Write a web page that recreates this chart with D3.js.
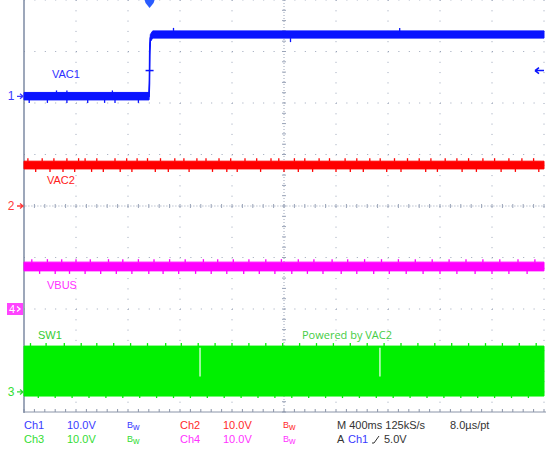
<!DOCTYPE html>
<html><head><meta charset="utf-8">
<script src="https://cdn.jsdelivr.net/npm/d3@7"></script>
<style>
html,body{margin:0;padding:0;background:#fff;}
svg{display:block;font-family:"Liberation Sans",Arial,sans-serif;}
</style></head>
<body><svg id="c" width="547" height="452"></svg>
<script>
// ---- data (time in ms from left edge, 400 ms/div; volts, 10 V/div) ----
const timeDivs = [0, 400, 800, 1200, 1600, 2000, 2400, 2800, 3200, 3600, 4000];
const voltDivs = [-4, -3, -2, -1, 0, 1, 2, 3, 4];
const triggerTime = 966;
const triggerLevel = 5.0;

// channel ground offsets in divisions
const chOffsets = {ch1: 2.13, ch2: 0, ch3: -3.61, ch4: -2.0};

// VAC1 (Ch1): envelope of the trace
const vac1Time = [0, 962, 965, 967, 972, 990, 4000];
const vac1Low  = [-0.7, -0.7, 2.0, 8.0, 10.6, 11.3, 11.3];
const vac1High = [0.75, 0.75, 3.0, 9.5, 12.0, 12.7, 12.7];
const vac1LowSpikeDown = [40, 180, 330, 490, 620, 700, 880];
const vac1LowSpikeUp = [250, 330, 680];
const vac1HighSpikeUp = [1150, 2890];
const vac1HighSpikeDown = [2050];

// VAC2 (Ch2)
const vac2Time = [0, 4000];
const vac2Low  = [7.2, 7.2];
const vac2High = [8.7, 8.7];
const vac2SpikeUp = [30, 140, 230, 330, 420, 470, 560, 700, 790, 870, 950, 1050, 1160, 1230, 1330, 1400, 1500, 1590, 1700, 1790, 1900, 1960, 2080, 2160, 2270, 2350, 2470, 2560, 2660, 2740, 2850, 2950, 3040, 3130, 3240, 3330, 3420, 3530, 3620, 3730, 3830, 3920];
const vac2SpikeDown = [90, 200, 300, 390, 520, 610, 740, 830, 1010, 1110, 1270, 1450, 1560, 1640, 1820, 2000, 2110, 2220, 2400, 2510, 2610, 2790, 2900, 3090, 3180, 3370, 3480, 3670, 3780, 3960];

// VBUS (Ch4)
const vbusTime = [0, 4000];
const vbusLow  = [7.4, 7.4];
const vbusHigh = [9.1, 9.1];
const vbusSpikeUp = [60, 180, 290, 400, 510, 650, 760, 880, 1000, 1120, 1240, 1380, 1490, 1610, 1730, 1860, 1980, 2110, 2230, 2370, 2490, 2620, 2750, 2880, 3010, 3140, 3270, 3400, 3530, 3660, 3800, 3930];
const vbusSpikeDown = [120, 240, 350, 470, 590, 710, 830, 960, 1070, 1190, 1320, 1440, 1560, 1690, 1810, 1930, 2060, 2180, 2300, 2440, 2560, 2690, 2810, 2940, 3070, 3200, 3330, 3470, 3600, 3730, 3870];

// SW1 (Ch3): switching envelope
const sw1Time = [0, 4000];
const sw1Low  = [-0.8, -0.8];
const sw1High = [8.9, 8.9];
const sw1Gaps = [1354, 2738];
const sw1GapLow = 3.0;
const sw1SpikeUp = [50, 170, 310, 440, 560, 690, 820, 950, 1090, 1210, 1340, 1470, 1600, 1730, 1860, 1990, 2120, 2250, 2380, 2510, 2640, 2770, 2900, 3030, 3160, 3290, 3420, 3550, 3680, 3810, 3940];
const sw1SpikeDown = [110, 240, 370, 500, 630, 760, 890, 1020, 1150, 1280, 1410, 1540, 1670, 1800, 1930, 2060, 2190, 2320, 2450, 2580, 2710, 2840, 2970, 3100, 3230, 3360, 3490, 3620, 3750, 3880];

// bottom readout texts
const readoutRow1 = [
  {t: "Ch1", c: "#3a3aff", x: 24}, {t: "10.0V", c: "#3a3aff", x: 67},
  {t: "Ch2", c: "#ff2a2a", x: 180}, {t: "10.0V", c: "#ff2a2a", x: 223},
  {t: "M 400ms 125kS/s", c: "#333", x: 337}, {t: "8.0\u00b5s/pt", c: "#333", x: 450}
];
const readoutRow2 = [
  {t: "Ch3", c: "#33dd33", x: 24}, {t: "10.0V", c: "#33dd33", x: 67},
  {t: "Ch4", c: "#ff33ff", x: 180}, {t: "10.0V", c: "#ff33ff", x: 223},
  {t: "A", c: "#333", x: 337}, {t: "Ch1", c: "#3a3aff", x: 348}, {t: "5.0V", c: "#333", x: 384}
];
const bwMarks = [
  {c: "#3a3aff", x: 127, row: 0}, {c: "#ff2a2a", x: 283, row: 0},
  {c: "#33dd33", x: 127, row: 1}, {c: "#ff33ff", x: 283, row: 1}
];

// ---- drawing ----
const svg = d3.select("#c");
const L = 24, R = 544, T = 0, B = 412;
const x = d3.scaleLinear().domain([0, 4000]).range([L, R]);
const yDiv = d3.scaleLinear().domain([-4, 4]).range([B, T]);
const yCh = (ch) => (v) => yDiv(chOffsets[ch] + v / 10);

const colors = {ch1: "#0a14ff", ch2: "#ff0000", ch3: "#00f000", ch4: "#ff00ff"};

// grid
const g = svg.append("g");
const sub = (R - L) / 50;
timeDivs.forEach((t, i) => {
  if (i === 0) return;
  g.append("line").attr("x1", x(t)).attr("x2", x(t)).attr("y1", T).attr("y2", B)
    .attr("stroke", "#9aa4b8").attr("stroke-width", 1)
    .attr("stroke-dasharray", i === 5 ? "1,2" : `1,${(B - T) / 40 - 1}`);
});
voltDivs.forEach((v, i) => {
  if (v === -4) return;
  g.append("line").attr("x1", L).attr("x2", R).attr("y1", yDiv(v)).attr("y2", yDiv(v))
    .attr("stroke", "#9aa4b8").attr("stroke-width", 1)
    .attr("stroke-dasharray", v === 0 ? "1,2" : `1,${sub - 1}`)
    .attr("stroke-dashoffset", -sub);
});
// center ticks
const xt = d3.range(0, 51).map(i => L + i * sub);
g.selectAll(".hct").data(xt).join("line")
  .attr("x1", d => d).attr("x2", d => d).attr("y1", yDiv(0) - 2).attr("y2", yDiv(0) + 2)
  .attr("stroke", "#9aa4b8");
const ytk = d3.range(0, 41).map(i => T + i * (B - T) / 40);
g.selectAll(".vct").data(ytk).join("line")
  .attr("x1", x(2000) - 2).attr("x2", x(2000) + 2).attr("y1", d => d).attr("y2", d => d)
  .attr("stroke", "#9aa4b8");
// bottom ticks
g.selectAll(".bt").data(xt).join("line")
  .attr("x1", d => d).attr("x2", d => d).attr("y1", B - 3).attr("y2", B)
  .attr("stroke", "#8a94a8");
// frame left & bottom
g.append("line").attr("x1", L).attr("x2", L).attr("y1", T).attr("y2", B + 1)
  .attr("stroke", "#7d8aa3").attr("stroke-width", 1.5);
g.append("line").attr("x1", L).attr("x2", R + 2).attr("y1", B).attr("y2", B)
  .attr("stroke", "#8a94a8").attr("stroke-width", 1);

// traces
function band(ch, times, lows, highs) {
  const y = yCh(ch);
  const pts = times.map((t, i) => ({t, lo: lows[i], hi: highs[i]}));
  svg.append("path").datum(pts)
    .attr("d", d3.area().x(d => x(d.t)).y0(d => y(d.lo)).y1(d => y(d.hi)))
    .attr("fill", colors[ch]).attr("stroke", colors[ch]).attr("stroke-width", 1);
}
function spikes(ch, times, base, dir, len) {
  const y = yCh(ch);
  svg.append("g").selectAll("line").data(times).join("line")
    .attr("x1", d => x(d)).attr("x2", d => x(d))
    .attr("y1", y(base)).attr("y2", y(base) + dir * len)
    .attr("stroke", colors[ch]).attr("stroke-width", 1.3);
}
band("ch1", vac1Time, vac1Low, vac1High);
svg.append("path").datum(vac1Time.map((t, i) => ({t, v: (vac1Low[i] + vac1High[i]) / 2})))
  .attr("d", d3.line().x(d => x(d.t)).y(d => yCh("ch1")(d.v)))
  .attr("fill", "none").attr("stroke", colors.ch1).attr("stroke-width", 1.6);
spikes("ch1", vac1LowSpikeDown, -0.7, 1, 3);
spikes("ch1", vac1LowSpikeUp, 0.75, -1, 2);
spikes("ch1", vac1HighSpikeUp, 12.7, -1, 3);
spikes("ch1", vac1HighSpikeDown, 11.3, 1, 4);
band("ch2", vac2Time, vac2Low, vac2High);
spikes("ch2", vac2SpikeUp, 8.7, -1, 3);
spikes("ch2", vac2SpikeDown, 7.2, 1, 3);
band("ch4", vbusTime, vbusLow, vbusHigh);
spikes("ch4", vbusSpikeUp, 9.1, -1, 3);
spikes("ch4", vbusSpikeDown, 7.4, 1, 3);
band("ch3", sw1Time, sw1Low, sw1High);
spikes("ch3", sw1SpikeUp, 8.9, -1, 3);
spikes("ch3", sw1SpikeDown, -0.8, 1, 2);
svg.append("g").selectAll("line").data(sw1Gaps).join("line")
  .attr("x1", d => x(d)).attr("x2", d => x(d))
  .attr("y1", yCh("ch3")(8.6)).attr("y2", yCh("ch3")(sw1GapLow))
  .attr("stroke", "#ffffff").attr("stroke-width", 1.2);

// trigger level mark on the rising edge
const ty = yCh("ch1")(triggerLevel);
svg.append("line").attr("x1", x(triggerTime) - 4).attr("x2", x(triggerTime) + 4)
  .attr("y1", ty).attr("y2", ty).attr("stroke", colors.ch1).attr("stroke-width", 1.5);
// trigger position marker (top)
const tx = x(triggerTime);
svg.append("path").attr("d", `M${tx - 5},0 L${tx + 5},0 L${tx + 4},3 L${tx},8 L${tx - 4},3 Z`)
  .attr("fill", "#2a5cff");
// trigger level arrow right
svg.append("path").attr("d", `M${R - 9},${ty} L${R},${ty} M${R - 9},${ty} L${R - 5},${ty - 3} M${R - 9},${ty} L${R - 5},${ty + 3}`)
  .attr("stroke", colors.ch1).attr("stroke-width", 1.5).attr("fill", "none");

// channel ground markers
function gnd(ch, label, col) {
  const yy = yCh(ch)(0);
  svg.append("text").attr("x", 11).attr("y", yy + 4).attr("text-anchor", "middle")
    .attr("font-size", 12).attr("fill", col).text(label);
  svg.append("path").attr("d", `M17,${yy} L22,${yy} M20,${yy - 2.5} L23,${yy} L20,${yy + 2.5}`)
    .attr("stroke", col).attr("stroke-width", 1.3).attr("fill", "none");
}
gnd("ch1", "1", "#3a3aff");
gnd("ch2", "2", "#ff3a3a");
gnd("ch3", "3", "#33dd33");
{
  const yy = yCh("ch4")(0);
  svg.append("rect").attr("x", 7).attr("y", yy - 6).attr("width", 16).attr("height", 12).attr("fill", "#ff44ff");
  svg.append("text").attr("x", 12).attr("y", yy + 4).attr("text-anchor", "middle")
    .attr("font-size", 11).attr("fill", "#fff").text("4");
  svg.append("path").attr("d", `M17,${yy - 2.5} L20,${yy} L17,${yy + 2.5}`)
    .attr("stroke", "#fff").attr("stroke-width", 1.3).attr("fill", "none");
}

// trace labels
const labels = [
  {t: "VAC1", c: "#3030ff", x: 52, y: 78},
  {t: "VAC2", c: "#ff2020", x: 47, y: 184},
  {t: "VBUS", c: "#ff30ff", x: 47, y: 289},
  {t: "SW1", c: "#33cc33", x: 38, y: 339},
  {t: "Powered by VAC2", c: "#44cc44", x: 302, y: 339}
];
svg.append("g").selectAll("text").data(labels).join("text")
  .attr("x", d => d.x).attr("y", d => d.y).attr("fill", d => d.c)
  .attr("font-size", 11)
  .attr("font-family", d => d.t.length > 5 ? "'Open Sans',sans-serif" : null)
  .text(d => d.t);

// readout
const rowY = [429, 443];
[readoutRow1, readoutRow2].forEach((row, r) => {
  svg.append("g").selectAll("text").data(row).join("text")
    .attr("x", d => d.x).attr("y", rowY[r]).attr("fill", d => d.c)
    .attr("font-size", 11).text(d => d.t);
});
bwMarks.forEach(b => {
  const t = svg.append("text").attr("x", b.x).attr("y", rowY[b.row] - 1).attr("fill", b.c).attr("font-size", 9);
  t.append("tspan").text("B");
  t.append("tspan").attr("dy", 2).text("w");
});
// rising slope symbol
svg.append("line").attr("x1", 374).attr("x2", 379).attr("y1", 443).attr("y2", 436)
  .attr("stroke", "#333").attr("stroke-width", 1);
svg.append("line").attr("x1", 372).attr("x2", 374).attr("y1", 443).attr("y2", 443)
  .attr("stroke", "#333").attr("stroke-width", 1);
</script></body></html>
